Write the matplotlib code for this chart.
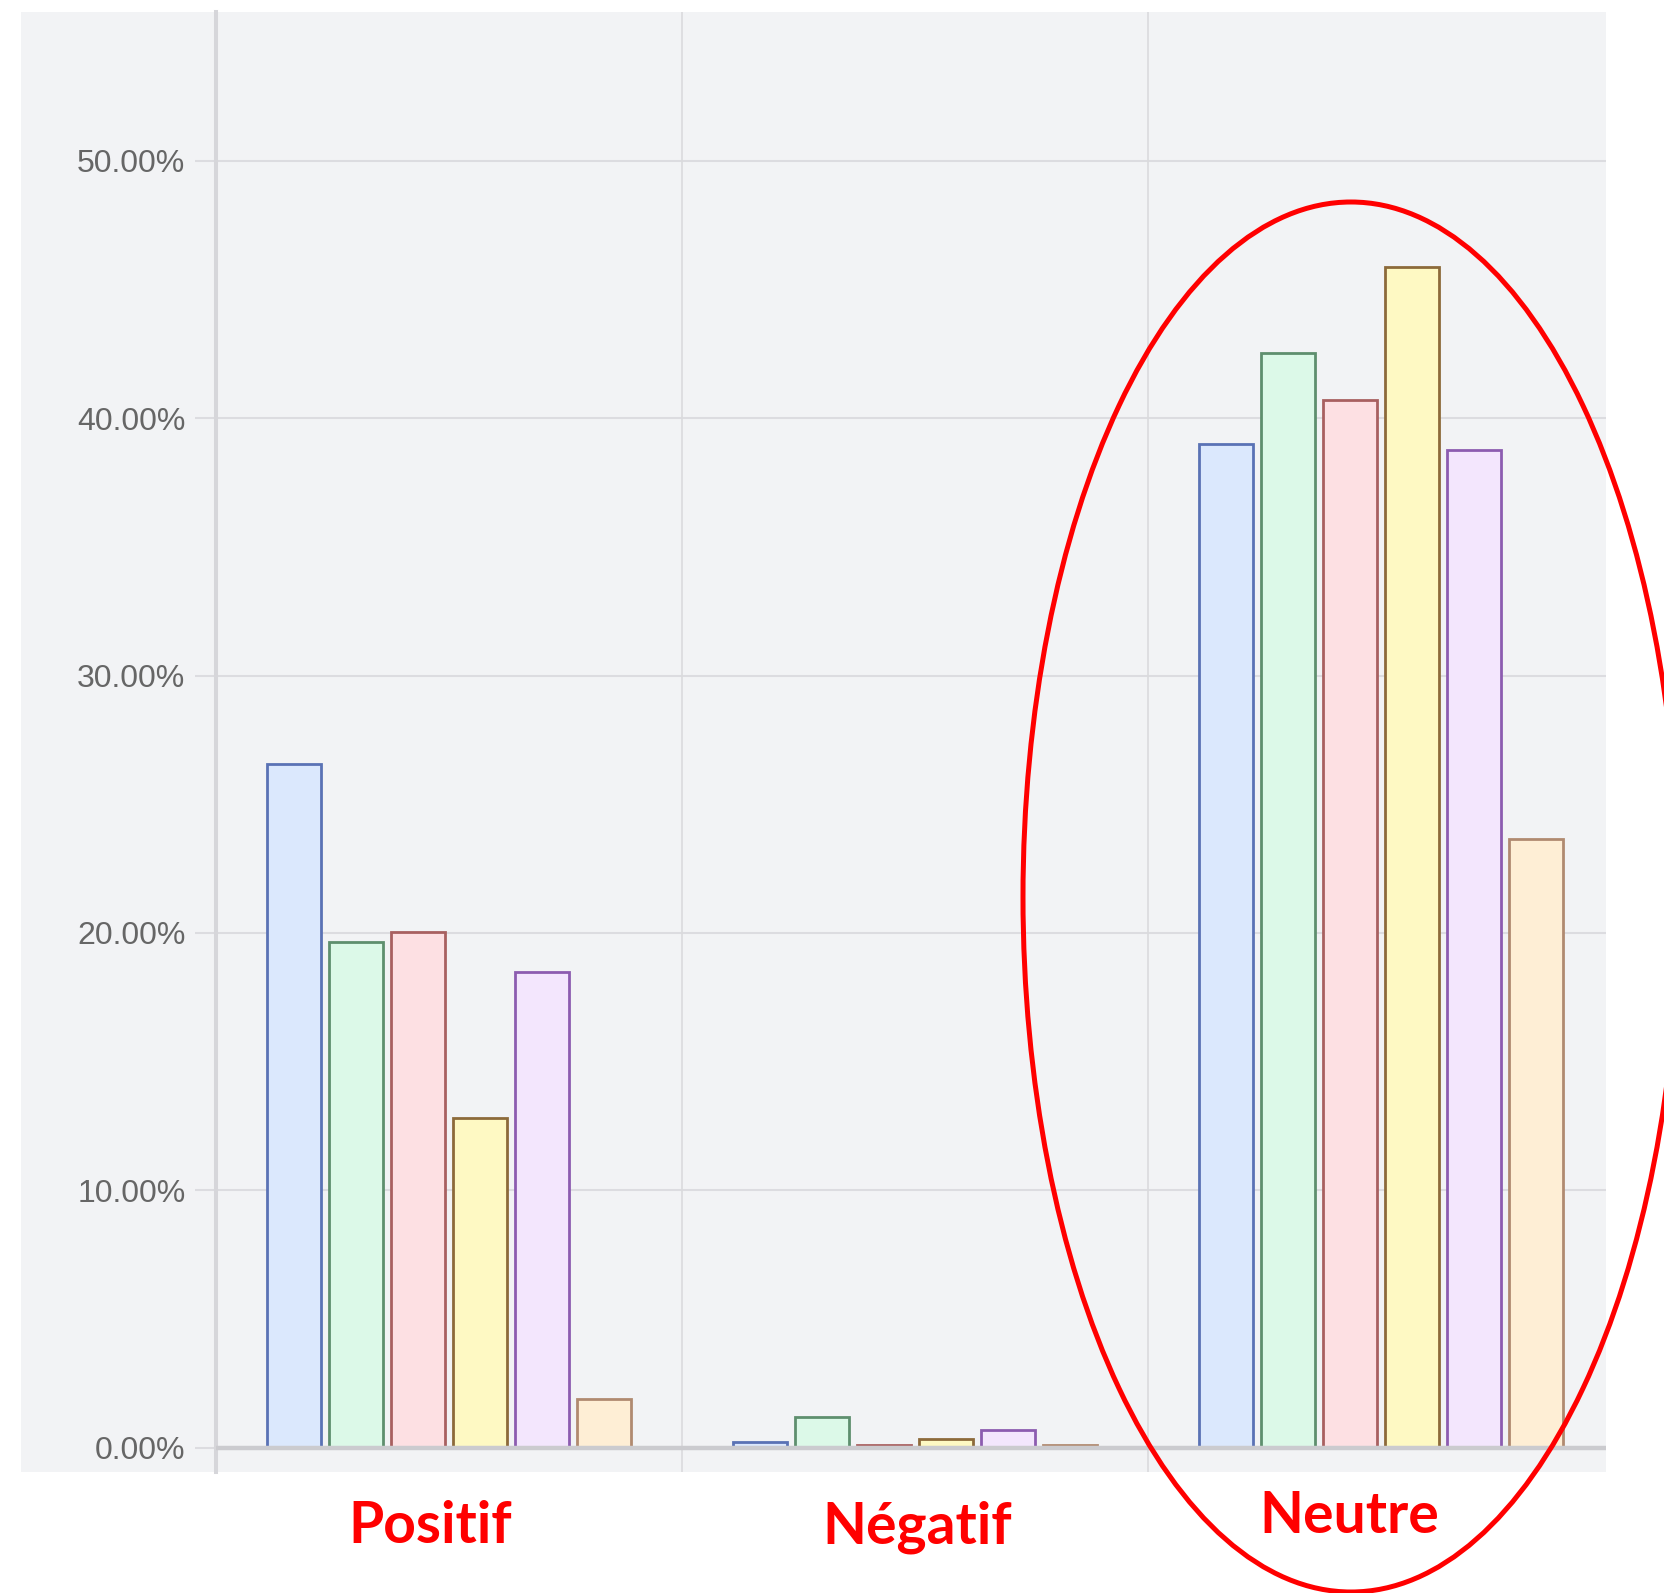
import matplotlib
matplotlib.use("Agg")
import matplotlib.pyplot as plt
from matplotlib.patches import Rectangle, Ellipse
import numpy as np

categories = ["Positif", "Négatif", "Neutre"]
series_names = ["S1", "S2", "S3", "S4", "S5", "S6"]
values = [
    [26.55, 19.66, 20.03, 12.80, 18.47, 1.88],   # Positif
    [0.21, 1.20, 0.08, 0.32, 0.68, 0.08],        # Négatif
    [39.00, 42.55, 40.72, 45.88, 38.75, 23.65],  # Neutre
]
y_ticks = [0, 10, 20, 30, 40, 50]
y_tick_labels = ["0.00%", "10.00%", "20.00%", "30.00%", "40.00%", "50.00%"]

fills = ["#dbe8fd", "#dcf9e8", "#fde0e3", "#fef9c3", "#f3e6fd", "#feeed5"]
edges = ["#5a72b5", "#5e8f6e", "#a86060", "#8c6a3a", "#8c5cb0", "#b08a70"]

W, H = 1665, 1593
fig = plt.figure(figsize=(W / 100, H / 100), dpi=100)
fig.patch.set_facecolor("white")

panel = "#f2f3f5"
# gray panel behind axes and tick labels
fig.patches.append(Rectangle((21 / W, 1 - 1472 / H), (1606 - 21) / W, (1472 - 12) / H,
                             transform=fig.transFigure, facecolor=panel, edgecolor="none", zorder=-5))

ax = fig.add_axes([216 / W, 1 - 1472 / H, 1390 / W, 1460 / H])
ax.set_zorder(1)
ax.set_facecolor(panel)
ax.set_xlim(0, 1390 / 466)
ax.set_ylim(-0.952, 55.79)

grid_c = "#dcdce0"
for t in y_ticks[1:]:
    ax.axhline(t, color=grid_c, lw=1.5, zorder=1)
ax.axhline(0, color="#cbcbcf", lw=3.2, zorder=3)
for xv in [1, 2]:
    ax.axvline(xv, color="#dadadd", lw=1.2, zorder=1)

slot = 0.1333
bw = 0.116
for i, cat in enumerate(categories):
    for j in range(len(series_names)):
        x = i + 0.5 + (j - 2.5) * slot
        ax.bar(x, values[i][j], width=bw, color=fills[j], edgecolor=edges[j],
               linewidth=2.0, zorder=2)

for s in ["top", "right", "bottom"]:
    ax.spines[s].set_visible(False)
ax.spines["left"].set_color("#d6d6da")
ax.spines["left"].set_linewidth(2.9)
ax.set_xticks([])
ax.set_yticks(y_ticks)
ax.set_yticklabels(y_tick_labels, fontfamily="Liberation Sans", fontsize=23, color="#666666")
ax.tick_params(axis="y", length=15, width=1.5, color=grid_c, pad=7)

# category labels
label_pos = [(430, 1543), (917, 1543), (1349, 1533)]
for cat, (px, py) in zip(categories, label_pos):
    fig.text(px / W, 1 - py / H, cat, ha="center", va="baseline", color="#ff0000",
             fontsize=41, fontweight="bold", fontfamily="Lato", zorder=5)

# red ellipse around Neutre
fig.patches.append(Ellipse((1351 / W, 1 - 897 / H), 2 * 328 / W, 2 * 695 / H,
                           transform=fig.transFigure, facecolor="none", edgecolor="#ff0000",
                           linewidth=3.6, zorder=10))

fig.savefig("out.png", dpi=100)
